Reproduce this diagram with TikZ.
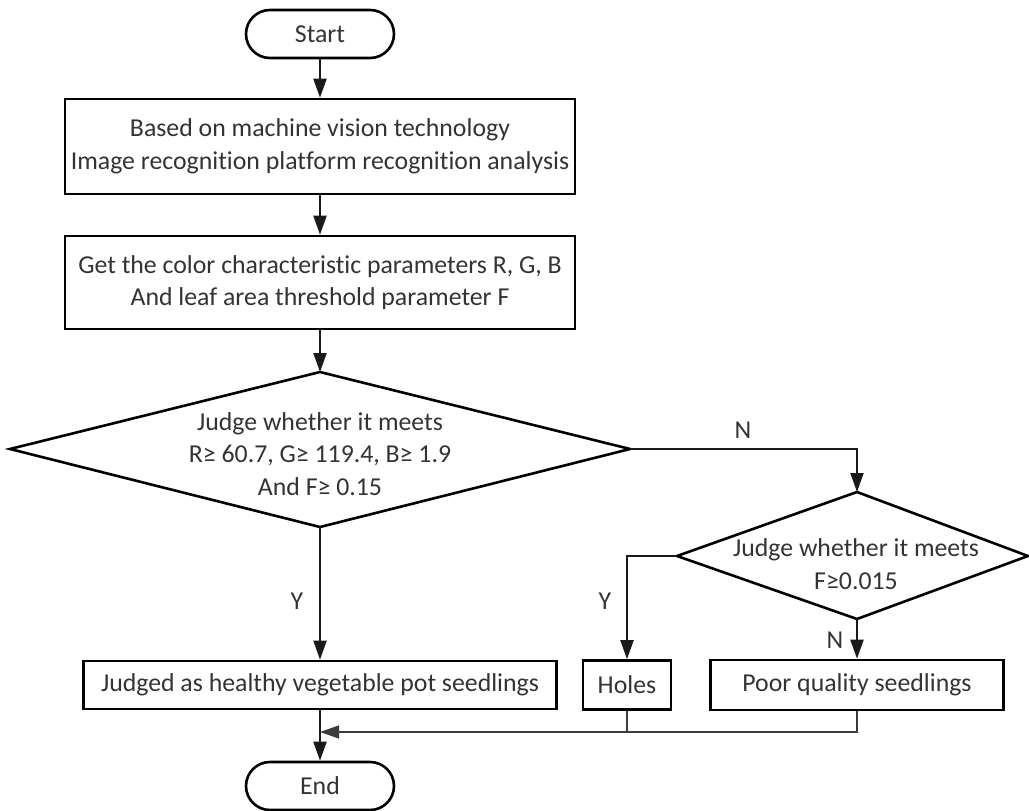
\documentclass[tikz,border=0pt]{standalone}
\usepackage{fontspec}
\setmainfont{Carlito}[Ligatures=NoCommon]
\usetikzlibrary{arrows.meta}
\definecolor{txt}{HTML}{333333}
\definecolor{ln}{HTML}{1A1A1A}
\definecolor{thinln}{HTML}{3C3C3C}
\tikzset{
  every node/.style={font=\fontsize{25.8}{32.5}\selectfont, text=txt, inner sep=0pt},
  term/.style={draw=black, line width=2.6pt, rounded corners=24pt, minimum width=148pt, minimum height=48pt},
  procbox/.style={draw=black, line width=2.6pt, align=center},
  diatext/.style={align=center},
  diaborder/.style={draw=black, line width=2.6pt},
  conn/.style={draw=ln, line width=2pt, -{Triangle[length=19pt,width=13pt]}},
  thinconn/.style={draw=thinln, line width=1.5pt},
  lbl/.style={text=txt}
}
\begin{document}
\begin{tikzpicture}[x=1pt,y=-1pt]
\useasboundingbox (0,0) rectangle (1029,811);

% terminals and process boxes
\node[term] (start) at (320,34) {Start};
\node[procbox, minimum width=510pt, minimum height=95pt] (b1) at (320,146.5)
  {Based on machine vision technology\\Image recognition platform recognition analysis};
\node[procbox, minimum width=510pt, minimum height=93pt] (b2) at (320,282.5)
  {Get the color characteristic parameters R, G, B\\And leaf area threshold parameter F};

% decision 1
\coordinate (d1t) at (320,372);
\coordinate (d1r) at (630,449);
\coordinate (d1b) at (320,527);
\coordinate (d1l) at (10,449);
\draw[diaborder] (d1t) -- (d1r) -- (d1b) -- (d1l) -- cycle;
\node[diatext] (d1) at (320,454)
  {Judge whether it meets\\R≥ 60.7, G≥ 119.4, B≥ 1.9\\And F≥ 0.15};

% decision 2
\coordinate (d2t) at (857,492);
\coordinate (d2r) at (1028,556);
\coordinate (d2b) at (857,619);
\coordinate (d2l) at (677,556);
\draw[diaborder] (d2t) -- (d2r) -- (d2b) -- (d2l) -- cycle;
\node[diatext] (d2) at (856,564) {Judge whether it meets\\F≥0.015};

% result boxes
\node[procbox, minimum width=473pt, minimum height=48pt] (heal) at (320,685)
  {Judged as healthy vegetable pot seedlings};
\node[procbox, minimum width=88pt, minimum height=49pt] (holes) at (627,685) {Holes};
\node[procbox, minimum width=293pt, minimum height=50pt] (poor) at (857,685)
  {Poor quality seedlings};
\node[term] (end) at (320,786) {End};

% labels
\node[lbl] (ly1) at (297,601) {Y};
\node[lbl] (ln1) at (743,430) {N};
\node[lbl] (ly2) at (605,601) {Y};
\node[lbl] (ln2) at (835,640) {N};

% connectors
\draw[conn] (start.south) -- (b1.north);
\draw[conn] (b1.south) -- (b2.north);
\draw[conn] (b2.south) -- (d1t);
\draw[conn] (d1b) -- (heal.north);
\draw[conn] (d1r) -| (d2t);
\draw[conn] (d2l) -| (holes.north);
\draw[conn] (d2b) -- (poor.north);
\draw[conn] (heal.south) -- (end.north);

\coordinate (mrg) at (320,732);
\draw[thinconn, -{Triangle[length=19pt,width=13pt]}] (poor.south) |- (mrg);
\draw[thinconn] (holes.south) -- (holes.south |- mrg);
\end{tikzpicture}
\end{document}
